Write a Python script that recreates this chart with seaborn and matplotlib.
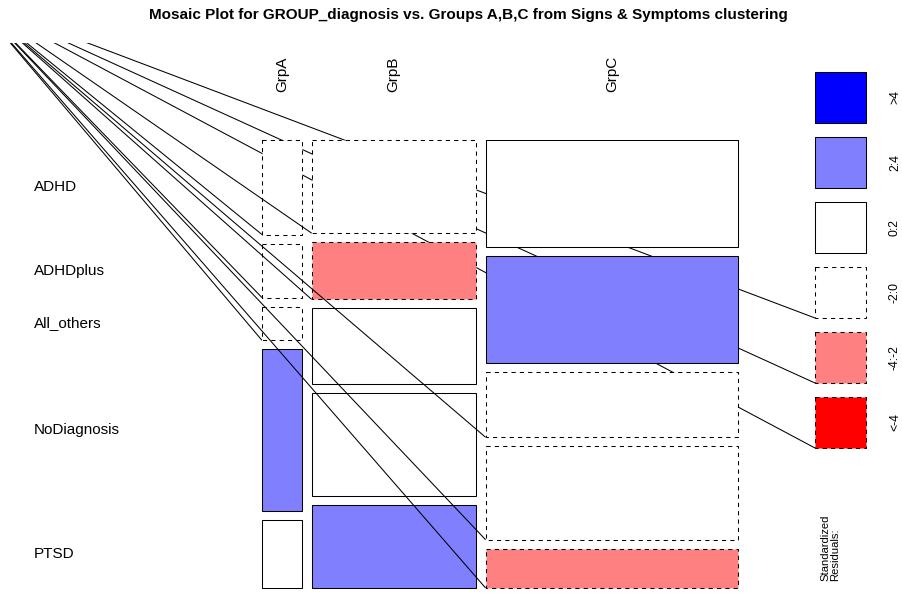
import numpy as np
import pandas as pd
import seaborn as sns
import matplotlib
matplotlib.use("Agg")
from matplotlib import pyplot as plt
from matplotlib.patches import Rectangle

# datos: conteos por grupo (columnas) y diagnostico (filas)
groups = ["GrpA", "GrpB", "GrpC"]
diagnoses = ["ADHD", "ADHDplus", "All_others", "NoDiagnosis", "PTSD"]
grpA_counts = [14, 8, 5, 24, 10]
grpB_counts = [57, 35, 46, 63, 51]
grpC_counts = [101, 101, 61, 88, 37]

legend_labels = [">4", "2:4", "0:2", "-2:0", "-4:-2", "<-4"]
shade_hex = ["#0000FF", "#8080FF", "#FFFFFF", "#FFFFFF", "#FF8080", "#FF0000"]

title = "Mosaic Plot for GROUP_diagnosis vs. Groups A,B,C from Signs & Symptoms clustering"

sns.set_theme(style="white")
plt.rcParams["font.family"] = ["Liberation Sans", "DejaVu Sans"]
plt.rcParams["text.color"] = "black"
shade = sns.color_palette(shade_hex)

table = pd.DataFrame({"GrpA": grpA_counts, "GrpB": grpB_counts, "GrpC": grpC_counts},
                     index=diagnoses)
n = table.values.sum()
expected = np.outer(table.sum(axis=1), table.sum(axis=0)) / n
resid = (table.values - expected) / np.sqrt(expected)


def shade_class(r):
    # indice en legend_labels
    if r > 4:
        return 0
    if r > 2:
        return 1
    if r >= 0:
        return 2
    if r > -2:
        return 3
    if r > -4:
        return 4
    return 5


fig = plt.figure(figsize=(9.02, 5.96), dpi=100)
ax = fig.add_axes([0, 0, 1, 1])
ax.set_xlim(0, 902)
ax.set_ylim(596, 0)
ax.axis("off")

# region donde se ven las lineas "fantasma" del dibujo original
clip = Rectangle((10, 43), 892, 553, transform=ax.transData)
origin = (-26, 0)
z = [2.0]


def draw_box(x, y, w, h, k):
    dashed = k >= 3
    if dashed:
        ln, = ax.plot([origin[0], x], [origin[1], y + h], color="black", lw=0.75,
                      zorder=z[0], solid_capstyle="butt")
        ln.set_clip_path(clip)
    ax.add_patch(Rectangle((x, y), w, h, facecolor=shade[k], edgecolor="black",
                           lw=0.75, linestyle=(0, (4, 4)) if dashed else "-",
                           zorder=z[0] + 0.5))
    z[0] += 1


# leyenda
for i, lab in enumerate(legend_labels):
    top = 72 + 65 * i
    draw_box(815, top, 51, 51, i)
    ax.text(895, top + 25.5, lab, rotation=90, ha="center", va="center", fontsize=8.8)
ax.text(830, 581, "Standardized\nResiduals:", rotation=90, ha="center", va="bottom",
        fontsize=8.1, multialignment="left", linespacing=1.0)

# mosaico
x0, x1, y0, y1 = 262, 738, 140, 588
gx, gy = 10, 9
col_tot = table.sum(axis=0).values
col_w = col_tot / n * (x1 - x0 - gx * (len(groups) - 1))
x = x0
for j, g in enumerate(groups):
    heights = table[g].values / col_tot[j] * (y1 - y0 - gy * (len(diagnoses) - 1))
    y = y0
    for i, d in enumerate(diagnoses):
        draw_box(x, y, col_w[j], heights[i], shade_class(resid[i, j]))
        if j == 0:
            ax.text(34, y + heights[i] / 2, d, ha="left", va="center", fontsize=11)
        y += heights[i] + gy
    ax.text(x + col_w[j] / 2, 92, g, rotation=90, ha="center", va="bottom", fontsize=11)
    x += col_w[j] + gx

ax.text(468, 15, title, ha="center", va="center", fontsize=11, fontweight="bold")

fig.savefig("out.png", dpi=100)
